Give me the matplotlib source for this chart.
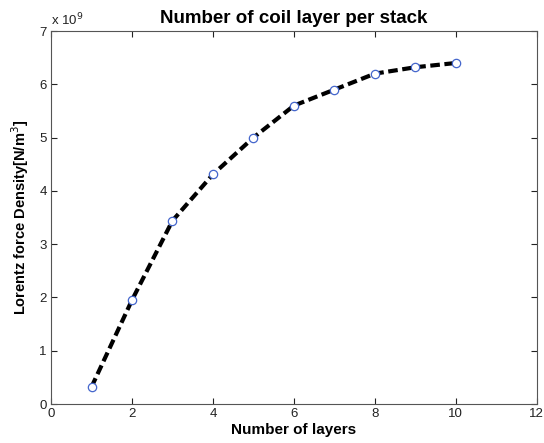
import matplotlib
matplotlib.use("Agg")
import matplotlib.pyplot as plt
import numpy as np

layers = [1, 2, 3, 4, 5, 6, 7, 8, 9, 10]
density = [0.32e9, 1.95e9, 3.44e9, 4.31e9, 5.0e9, 5.60e9, 5.90e9, 6.20e9, 6.32e9, 6.40e9]
xticks = [0, 2, 4, 6, 8, 10, 12]
yticks = [0, 1, 2, 3, 4, 5, 6, 7]

plt.rcParams['font.family'] = ['Liberation Sans', 'DejaVu Sans']

fig = plt.figure(figsize=(5.44, 4.43), dpi=100)
ax = fig.add_axes([0.0938, 0.088, 0.893, 0.842])

ax.plot(layers, density, linestyle='--', color='black', linewidth=3, dashes=(2.3, 1.1), zorder=2)
ax.plot(layers, density, linestyle='none', marker='o', markersize=6,
        markerfacecolor='white', markeredgecolor='#4466cc', markeredgewidth=0.9, zorder=3)

ax.set_xlim(0, 12)
ax.set_ylim(0, 7e9)
ax.set_xticks(xticks)
ax.set_yticks([v * 1e9 for v in yticks])
ax.set_xticklabels([str(v) for v in xticks])
ax.set_yticklabels([str(v) for v in yticks])
ax.tick_params(direction='in', length=4, width=0.8, labelsize=9.5, colors='#222222',
               top=True, right=True, pad=3)
for s in ax.spines.values():
    s.set_color('#555555')
    s.set_linewidth(0.8)

ax.text(0.0, 1.008, r'x 10$^{9}$', transform=ax.transAxes, fontsize=9.5, ha='left', va='bottom', color='#222222')

ax.set_title('Number of coil layer per stack', fontsize=13.5, fontweight='bold', pad=6)
ax.set_xlabel('Number of layers', fontsize=11, fontweight='bold', labelpad=2)
ax.set_ylabel(r'Lorentz force Density[N/m$^3$]', fontsize=10.5, fontweight='bold', labelpad=6)

fig.savefig('out.png', dpi=100)
